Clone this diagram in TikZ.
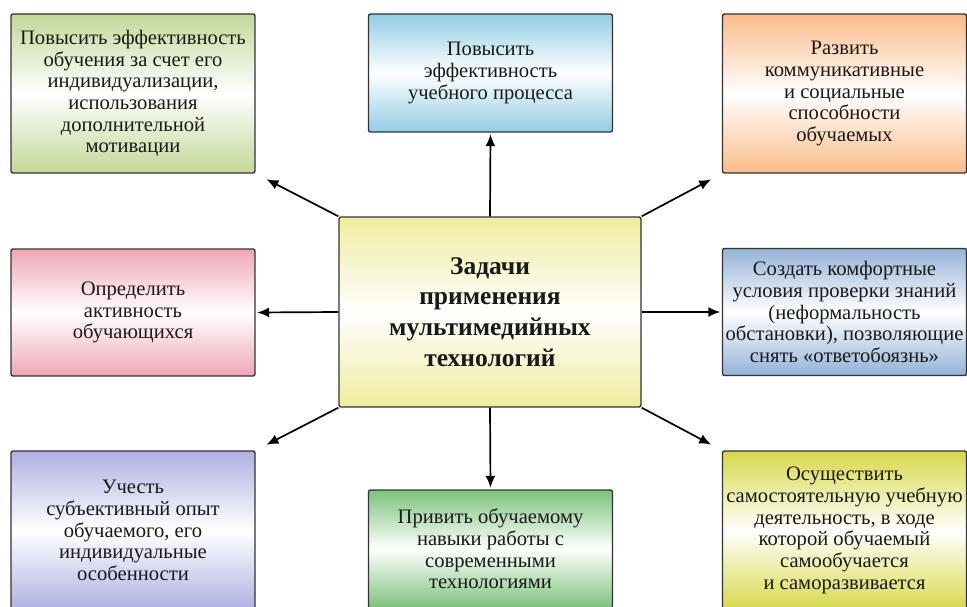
\documentclass[tikz,border=0pt]{standalone}
\usepackage{fontspec}
\setmainfont{Liberation Serif}
\usetikzlibrary{arrows.meta}
\definecolor{tlgreen}{RGB}{194,216,152}
\definecolor{tcblue}{RGB}{146,205,228}
\definecolor{trorange}{RGB}{250,188,138}
\definecolor{mainyellow}{RGB}{240,236,158}
\definecolor{mlpink}{RGB}{240,166,184}
\definecolor{mrblue}{RGB}{148,178,216}
\definecolor{bllilac}{RGB}{174,176,226}
\definecolor{bcgreen}{RGB}{124,194,124}
\definecolor{bryellow}{RGB}{216,216,74}
\tikzset{basic/.style={draw=black!80,line width=1.4pt,rounded corners=2pt,
                       align=center,inner sep=0pt,text=black!90,
                       top color=#1,bottom color=#1,middle color=white,
                       font=\fontsize{20.6}{21.7}\selectfont}}
\tikzset{tallbox/.style={basic=#1,minimum width=244pt,minimum height=159pt}}
\tikzset{lowbox/.style={basic=#1,minimum width=244pt,minimum height=118pt}}
\tikzset{sidebox/.style={basic=#1,minimum width=244pt,minimum height=127pt}}
\tikzset{mainbox/.style={basic=#1,minimum width=302pt,minimum height=190pt,
                         font=\fontsize{25.5}{30.8}\selectfont\bfseries}}
\tikzset{arrow/.style={-{Latex[length=12pt,width=10pt]},line width=1.7pt}}

\begin{document}
\begin{tikzpicture}[x=1pt,y=-1pt]
    \useasboundingbox (0,0) rectangle (967,607);
    \clip (0,0) rectangle (967,607);
    \node[mainbox=mainyellow] (main) at (490,312)
        {Задачи\\применения\\мультимедийных\\технологий};
    % top row
    \node[tallbox=tlgreen] (tl) at (133,93.5) {Повысить эффективность\\обучения за счет его\\индивидуализации,\\использования\\дополнительной\\мотивации};
    \node[lowbox=tcblue] (tc) at (490.5,73) {Повысить\\эффективность\\учебного процесса};
    \node[tallbox=trorange] (tr) at (844.5,93.5) {Развить\\коммуникативные\\и социальные\\способности\\обучаемых};
    % middle row
    \node[sidebox=mlpink] (ml) at (133,312.5) {Определить\\активность\\обучающихся};
    \node[sidebox=mrblue] (mr) at (844.5,312) {Создать комфортные\\условия проверки знаний\\(неформальность\\обстановки), позволяющие\\снять «ответобоязнь»};
    % bottom row
    \node[tallbox=bllilac] (bl) at (133,530.5) {Учесть\\субъективный опыт\\обучаемого, его\\индивидуальные\\особенности};
    \node[lowbox=bcgreen] (bc) at (490.5,549) {Привить обучаемому\\навыки работы с\\современными\\технологиями};
    \node[tallbox=bryellow] (br) at (844.5,530.5) {Осуществить\\самостоятельную учебную\\деятельность, в ходе\\которой обучаемый\\самообучается\\и саморазвивается};
    % Arrows
    \foreach \a/\b in {north/tc.south,south/bc.north,west/ml.east,east/mr.west}
        \draw[arrow,shorten >=1.5pt] (main.\a) -- (\b);
    \foreach \a/\b in {north west/tl.south east,north east/tr.south west,
                       south west/bl.north east,south east/br.north west}
        \draw[arrow,shorten >=12pt] (main.\a) -- (\b);
\end{tikzpicture}
\end{document}
